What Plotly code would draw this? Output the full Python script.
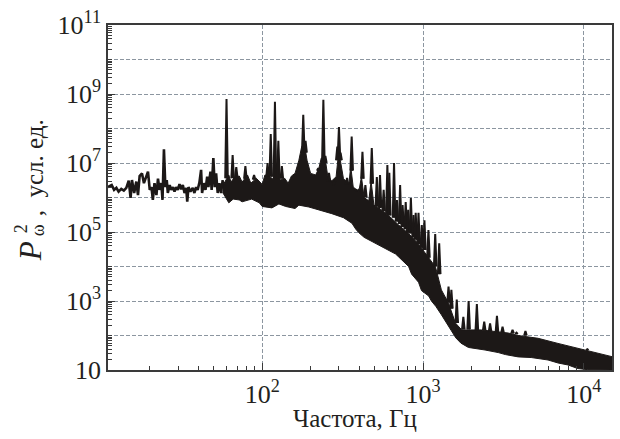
import plotly.graph_objects as go

# ---- spectrum data (frequency in Hz, power in arbitrary units) ----
# low-frequency part of the spectrum, drawn as a line
lf_freq = [11.0, 11.6, 12.0, 12.4, 12.8, 13.3, 13.8, 14.3, 14.8, 15.2, 15.5, 16.0, 16.5, 16.9,
           17.3, 17.9, 18.4, 19.0, 19.5, 20.0, 20.5, 20.9, 21.4, 22.0, 22.5, 23.0, 23.6, 24.0,
           24.5, 25.0, 25.5, 25.9, 26.6, 27.2, 27.9, 28.5, 29.2, 29.9, 30.6, 31.4, 32.1, 32.9,
           33.7, 34.2, 34.8, 35.8, 37.0, 37.9, 38.8, 39.7, 40.7, 41.7, 42.3, 43.3, 44.4, 45.5,
           46.3, 47.7, 48.5, 49.7, 50.7, 51.7, 52.9, 54.2, 55.5, 56.8]
lf_power = [2.0e6, 2.3e6, 1.66e6, 1.9e6, 1.48e6, 1.78e6, 1.58e6, 1.9e6, 3.1e6, 9.7e5, 3.2e6, 1.35e6,
            2.9e6, 1.17e6, 4.2e6, 5.0e6, 2.6e6, 4.0e6, 5.6e6, 1.66e6, 2.0e6, 8.5e5, 2.6e6, 1.17e6,
            3.5e6, 1.66e6, 2.6e6, 8.5e5, 2.5e7, 2.0e6, 3.2e6, 1.35e6, 2.3e6, 1.66e6, 2.0e6, 1.48e6,
            2.0e6, 1.66e6, 2.45e6, 1.74e6, 2.3e6, 1.35e6, 1.9e6, 7.6e5, 2.0e6, 1.48e6, 1.9e6,
            1.35e6, 2.0e6, 1.66e6, 2.7e6, 6.3e6, 1.35e6, 2.6e6, 1.66e6, 4.0e6, 2.0e6, 5.6e6,
            1.66e6, 1.38e7, 2.0e6, 5.0e6, 1.35e6, 2.6e6, 1.35e6, 3.2e6]

# dense part of the spectrum: upper and lower envelopes of the noise band
upper_freq = [56.8, 58, 62, 64, 67, 72, 75, 81, 85, 92, 100, 104, 110, 116, 123, 130, 138, 145,
              152, 160, 169, 176, 184, 190, 200, 215, 225, 233, 247, 255, 270, 288, 297, 306, 320,
              346, 355, 368, 399, 414, 430, 460, 475, 495, 530, 611, 705, 813, 937, 1083, 1195,
              1300, 1439, 1590, 1740, 2300, 3384, 3902, 5187, 6897, 9170, 12192, 15140]
upper_power = [3.2e6, 2.6e6, 4.5e6, 2.8e6, 3.8e6, 4.2e6, 2.8e6, 4.5e6, 2.6e6, 3.6e6, 2.4e6, 4.5e6,
               4.2e6, 3.5e6, 5.0e6, 3.2e6, 3.6e6, 2.6e6, 4.2e6, 5.0e6, 1.2e7, 3.0e7, 3.0e7, 1.2e7,
               5.0e6, 4.5e6, 7.0e6, 1.4e7, 1.2e7, 4.5e6, 3.0e6, 4.0e6, 1.6e7, 1.2e7, 3.5e6, 2.5e6,
               8.0e6, 2.0e6, 1.5e6, 4.0e6, 1.0e6, 8.0e5, 3.0e6, 6.0e5, 5.0e5, 3.0e5, 1.6e5, 9.0e4,
               4.5e4, 1.8e4, 9.7e3, 2.1e3, 8.7e2, 2.3e2, 1.45e2, 1.45e2, 1.18e2, 1.0e2, 8.3e1,
               5.9e1, 4.3e1, 3.0e1, 2.4e1]
lower_freq = [56.8, 62, 66, 72, 75, 86, 96, 100, 115, 127, 140, 160, 169, 195, 225, 271, 320, 361,
              382, 399, 430, 479, 509, 584, 675, 705, 760, 813, 849, 937, 978, 1083, 1127, 1200,
              1300, 1400, 1496, 1600, 1720, 1914, 2430, 2934, 3250, 3902, 4700, 5981, 6897, 7953,
              9170, 10573, 12192, 15140]
lower_power = [1.4e6, 7.0e5, 9.0e5, 8.5e5, 7.5e5, 9.0e5, 7.0e5, 5.5e5, 5.0e5, 6.5e5, 5.5e5, 4.8e5,
               6.0e5, 5.3e5, 4.4e5, 3.4e5, 2.6e5, 1.8e5, 1.2e5, 9.5e4, 7.0e4, 5.5e4, 4.5e4, 3.3e4,
               2.3e4, 1.9e4, 1.4e4, 1.0e4, 6.0e3, 3.5e3, 2.0e3, 1.4e3, 1.0e3, 7.0e2, 4.0e2, 2.4e2,
               1.4e2, 8.5e1, 6.0e1, 4.5e1, 3.8e1, 3.2e1, 2.8e1, 2.4e1, 2.3e1, 1.95e1, 1.6e1,
               1.4e1, 1.1e1, 1.02e1, 1.0e1, 1.0e1]

# discrete spectral peaks: frequency, peak power, power at the foot of the peak
peak_freq = [60, 65.5, 69, 78.6, 89, 108, 113, 120, 126, 132.5, 180, 186, 223, 240, 247, 260, 279,
             293, 300, 307, 337, 360, 384, 399, 420, 438, 480, 516, 540, 569, 600, 617, 660, 688,
             720, 746, 780, 808, 840, 872, 900, 937, 982, 1020, 1080, 1190, 1260, 1440, 1500, 1620,
             1780, 1920, 2160, 2400, 2610, 2880, 3120, 3600, 3810, 4330, 10500]
peak_power = [7.2e8, 1.7e7, 7.6e6, 8.1e6, 4.5e6, 1.0e7, 6.9e7, 6.0e8, 4.4e7, 8.1e6, 2.5e8, 4.4e7,
              7.0e6, 6.8e8, 1.6e7, 5.2e6, 2.3e6, 3.0e7, 1.1e8, 2.0e7, 3.7e6, 5.8e7, 1.66e6, 1.66e6,
              2.1e7, 2.3e6, 2.7e7, 3.9e6, 4.5e6, 1.66e6, 8.7e6, 5.2e6, 1.0e7, 8.5e5, 2.3e6, 6.0e5,
              7.4e5, 4.4e5, 9.6e5, 3.1e5, 3.6e5, 3.6e5, 1.6e5, 2.2e5, 1.14e5, 8.7e4, 4.7e4, 2.6e3,
              2.1e3, 1.1e3, 3.5e2, 1.0e3, 8.2e2, 2.5e2, 2.25e2, 3.7e2, 1.8e2, 1.45e2, 1.2e2,
              1.35e2, 4.0e1]
peak_base = [3.6e6, 3.6e6, 3.7e6, 3.5e6, 3.3e6, 4.0e6, 4.0e6, 3.8e6, 3.6e6, 3.5e6, 2.0e7, 2.0e7,
             6.0e6, 1.0e7, 1.0e7, 3.0e6, 3.0e6, 1.2e7, 1.4e7, 1.2e7, 2.4e6, 6.0e6, 1.6e6, 1.5e6,
             3.5e6, 1.0e6, 2.5e6, 5.5e5, 5.0e5, 4.0e5, 3.3e5, 3.0e5, 2.6e5, 2.0e5, 1.7e5, 1.4e5,
             1.2e5, 9.5e4, 9.0e4, 7.0e4, 6.0e4, 4.5e4, 3.5e4, 3.0e4, 1.8e4, 1.0e4, 6.0e3, 9.0e2,
             6.0e2, 2.3e2, 1.5e2, 1.5e2, 1.45e2, 1.4e2, 1.3e2, 1.25e2, 1.2e2, 1.15e2, 1.1e2,
             1.0e2, 3.8e1]

# axis ticks: labelled decades and the unlabelled decades carrying only a grid line
x_tick_vals = [1e2, 1e3, 1e4]
x_tick_text = ["10<sup>2</sup>", "10<sup>3</sup>", "10<sup>4</sup>"]
y_tick_vals = [1e1, 1e3, 1e5, 1e7, 1e9, 1e11]
y_tick_text = ["10", "10<sup>3</sup>", "10<sup>5</sup>", "10<sup>7</sup>", "10<sup>9</sup>",
               "10<sup>11</sup>"]
y_grid_only = [1e2, 1e4, 1e6, 1e8, 1e10]

# ---- geometry of the figure ----
W, H = 620, 439
ML, MR, MT, MB = 108, 6, 25, 69
X_RANGE = [1.0414, 4.1746]   # log10 of 11 Hz .. ~14.9 kHz
Y_RANGE = [1, 11]
PW = W - ML - MR
PH = H - MT - MB
px_per_decade_x = PW / (X_RANGE[1] - X_RANGE[0])

INK = "#1c1817"
AXIS = "#3a3a3a"
GRID = "#8c96a0"
TEXT = "#231f20"
FONT = "Liberation Serif, Times New Roman, serif"


def paper_x(px):
    return (px - ML) / PW


def paper_y(py):
    return (H - MB - py) / PH


fig = go.Figure()

# noise band (closed polygon made of the two envelopes)
band_x = upper_freq + lower_freq[::-1]
band_y = upper_power + lower_power[::-1]
fig.add_trace(go.Scatter(x=band_x, y=band_y, mode="lines", fill="toself",
                         fillcolor=INK, line=dict(color=INK, width=1),
                         hoverinfo="skip", showlegend=False))

# narrow peaks rising from the band
half_w = 1.3  # half width of a peak foot, px
k = 10 ** (half_w / px_per_decade_x)
sx, sy = [], []
for f, p, b in zip(peak_freq, peak_power, peak_base):
    sx += [f / k, f, f * k, None]
    sy += [b, p, b, None]
fig.add_trace(go.Scatter(x=sx, y=sy, mode="lines", fill="toself", fillcolor=INK,
                         line=dict(color=INK, width=2.0), hoverinfo="skip",
                         showlegend=False))

# low-frequency part
fig.add_trace(go.Scatter(x=lf_freq, y=lf_power, mode="lines",
                         line=dict(color=INK, width=2.6), hoverinfo="skip",
                         showlegend=False))

axis_common = dict(
    type="log", showline=True, linecolor=AXIS, linewidth=1.5, mirror=True,
    ticks="inside", tickcolor=AXIS, tickwidth=1, ticklen=7,
    showgrid=True, gridcolor=GRID, gridwidth=1, griddash="4px,2px",
    zeroline=False, tickfont=dict(family=FONT, size=26, color=TEXT),
)

x_minor = [m * 10 ** d for d in (1, 2, 3, 4) for m in range(2, 10) if m * 10 ** d < 15000]
y_minor = [m * 10 ** d for d in range(1, 11) for m in range(2, 10)] + y_grid_only

fig.update_xaxes(range=X_RANGE, tickmode="array", tickvals=x_tick_vals, ticktext=x_tick_text,
                 minor=dict(tickmode="array", tickvals=x_minor, ticks="inside", ticklen=4,
                            tickcolor=AXIS, showgrid=False),
                 **axis_common)
fig.update_yaxes(range=Y_RANGE, tickmode="array", tickvals=y_tick_vals, ticktext=y_tick_text,
                 minor=dict(tickmode="array", tickvals=y_minor, ticks="inside", ticklen=4,
                            tickcolor=AXIS, showgrid=False),
                 **axis_common)

# grid lines on the unlabelled decades
shapes = [dict(type="line", xref="paper", x0=0, x1=1, yref="y", y0=v, y1=v, layer="below",
               line=dict(color=GRID, width=1, dash="4px,2px")) for v in y_grid_only]

annotations = [
    dict(text="Частота, Гц", x=paper_x(356), y=paper_y(418), font=dict(size=25)),
    dict(text="<i>P</i>", x=paper_x(30), y=paper_y(251), font=dict(size=31), textangle=-90),
    dict(text="2", x=paper_x(21), y=paper_y(229), font=dict(size=18), textangle=-90),
    dict(text="ω", x=paper_x(38), y=paper_y(230), font=dict(size=18), textangle=-90),
    dict(text=",  усл. ед.", x=paper_x(34), y=paper_y(168), font=dict(size=25), textangle=-90),
]
for a in annotations:
    a.update(xref="paper", yref="paper", showarrow=False, xanchor="center", yanchor="middle")
    a["font"].update(family=FONT, color=TEXT)

fig.update_layout(
    width=W, height=H, margin=dict(l=ML, r=MR, t=MT, b=MB),
    paper_bgcolor="white", plot_bgcolor="white",
    annotations=annotations, shapes=shapes, showlegend=False,
)

fig.write_html("out.html")
